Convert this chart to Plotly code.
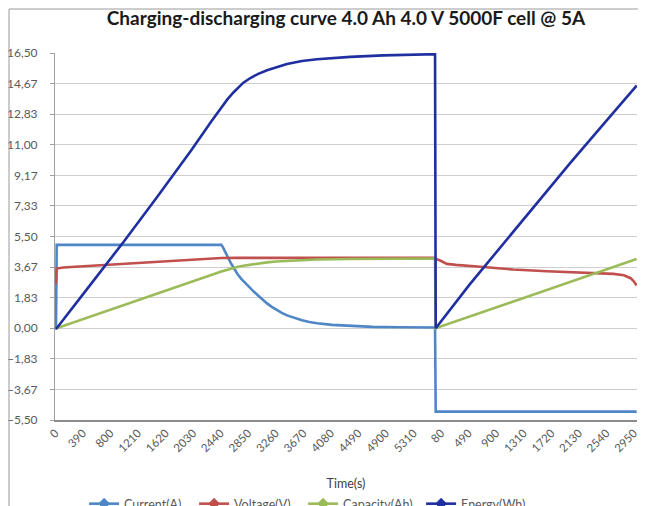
import plotly.graph_objects as go

TITLE = "Charging-discharging curve 4.0 Ah 4.0 V 5000F cell @ 5A"
X_TITLE = "Time(s)"
SERIES = ["Current(A)", "Voltage(V)", "Capacity(Ah)", "Energy(Wh)"]
COLORS = ["#4F86C6", "#C0504D", "#9BBB59", "#1F2FA0"]

# x-axis category labels (every 41st sample, as in the source chart)
X_TICK_LABELS = ["0", "390", "800", "1210", "1620", "2030", "2440", "2850", "3260",
                 "3670", "4080", "4490", "4900", "5310", "80", "490", "900", "1310",
                 "1720", "2130", "2540", "2950"]
LABEL_EVERY = 41
SAMPLE_STEP_S = 10
REST_SAMPLES = 2          # rest samples logged before the charge starts
CHARGE_SAMPLES = 564      # charge: 0 .. 5630 s
DISCHARGE_SAMPLES = 300   # discharge: 0 .. 2990 s

# ---------------- charge phase (s since charge start; negative = rest) -------------
chg_current_t = [-20, -10, 0, 2450, 2475, 2500, 2530, 2560, 2600, 2633, 2690, 2750,
                 2815, 2882, 2940, 3000, 3065, 3130, 3200, 3270, 3350, 3427, 3540,
                 3650, 3760, 3873, 4100, 4368, 4700, 5112, 5630]
chg_current = [0.0, 0.0, 5.0, 5.0, 4.85, 4.62, 4.4, 4.15, 3.85, 3.6, 3.25, 2.95,
               2.67, 2.41, 2.17, 1.95, 1.7, 1.49, 1.28, 1.1, 0.92, 0.77, 0.6,
               0.48, 0.38, 0.30, 0.20, 0.13, 0.08, 0.06, 0.05]

chg_voltage_t = [-20, -10, 0, 100, 400, 750, 1250, 1740, 2100, 2450, 2700, 5630]
chg_voltage = [2.7, 2.7, 3.58, 3.64, 3.72, 3.80, 3.91, 4.02, 4.12, 4.21, 4.22, 4.22]

chg_capacity_t = [-20, -10, 0, 2450, 2540, 2633, 2700, 2778, 2882, 3000, 3130, 3270,
                  3427, 3650, 3873, 4368, 5000, 5630]
chg_capacity = [0.0, 0.0, 0.0, 3.40, 3.52, 3.62, 3.69, 3.75, 3.82, 3.89, 3.95, 4.0,
                4.04, 4.09, 4.12, 4.15, 4.17, 4.18]

chg_energy_t = [-20, -10, 0, 500, 1000, 1500, 2000, 2300, 2450, 2540, 2633, 2700,
                2778, 2882, 3000, 3130, 3270, 3427, 3650, 3873, 4368, 4859, 5630]
chg_energy = [0.0, 0.0, 0.0, 2.6, 5.2, 7.9, 10.65, 12.4, 13.25, 13.72, 14.15, 14.42,
              14.72, 15.0, 15.25, 15.47, 15.66, 15.84, 16.02, 16.13, 16.27, 16.36, 16.43]

# ---------------- discharge phase (s since discharge start) -----------------------
dis_current_t = [0, 2990]
dis_current = [-5.0, -5.0]

dis_voltage_t = [0, 67, 166, 300, 666, 1152, 1653, 2153, 2644, 2800, 2900, 2950, 2990]
dis_voltage = [4.15, 4.06, 3.86, 3.80, 3.69, 3.52, 3.42, 3.36, 3.26, 3.18, 3.0, 2.8, 2.56]

dis_capacity_t = [0, 2990]
dis_capacity = [0.0, 4.15]

dis_energy_t = [0, 500, 1000, 1500, 2000, 2500, 2990]
dis_energy = [0.0, 2.6, 5.05, 7.5, 9.9, 12.25, 14.55]

Y_MIN, Y_MAX, Y_DIVS = -5.5, 16.5, 12
LEGEND_ENTRY_WIDTHS = [65, 64, 73, 70]


def charge_pos(ts):
    return [REST_SAMPLES + t / SAMPLE_STEP_S for t in ts]


def discharge_pos(ts):
    return [REST_SAMPLES + CHARGE_SAMPLES + t / SAMPLE_STEP_S for t in ts]


data = [
    (chg_current_t, chg_current, dis_current_t, dis_current),
    (chg_voltage_t, chg_voltage, dis_voltage_t, dis_voltage),
    (chg_capacity_t, chg_capacity, dis_capacity_t, dis_capacity),
    (chg_energy_t, chg_energy, dis_energy_t, dis_energy),
]

n_total = REST_SAMPLES + CHARGE_SAMPLES + DISCHARGE_SAMPLES

fig = go.Figure()
for name, color, (ct, cv, dt, dv) in zip(SERIES, COLORS, data):
    fig.add_trace(go.Scatter(
        x=charge_pos(ct) + discharge_pos(dt), y=cv + dv, mode="lines",
        line=dict(color=color, width=2.6), showlegend=False, name=name))
for name, color, lw in zip(SERIES, COLORS, LEGEND_ENTRY_WIDTHS):
    fig.add_trace(go.Scatter(
        x=[None], y=[None], mode="lines+markers", name=name, legendwidth=lw,
        line=dict(color=color, width=2.6),
        marker=dict(symbol="diamond", size=9, color=color)))

FONT = "Lato, 'Open Sans', sans-serif"
FIG_W, FIG_H = 638, 498   # the page body adds an 8px offset inside the 646x506 window
fig.update_layout(
    width=FIG_W, height=FIG_H,
    margin=dict(l=47, r=9, t=45, b=86, autoexpand=False),
    paper_bgcolor="white", plot_bgcolor="white",
    separators=", ",
    font=dict(family=FONT, size=12, color="#595959"),
    title=dict(text="<b>" + TITLE + "</b>", x=0.5, xref="paper", xanchor="center",
               y=1 - 10 / FIG_H, yref="container", yanchor="middle",
               font=dict(family=FONT, size=19, color="#1a1a1a")),
    xaxis=dict(
        range=[-0.5, n_total - 0.5],
        tickmode="array",
        tickvals=[i * LABEL_EVERY for i in range(len(X_TICK_LABELS))],
        ticktext=X_TICK_LABELS, tickangle=-45,
        showgrid=False, zeroline=False,
        showline=True, linecolor="#8C8C8C", linewidth=2,
        tickfont=dict(family=FONT, size=11.5, color="#595959"),
        title=dict(text=X_TITLE, standoff=26,
                   font=dict(family=FONT, size=12.5, color="#404040")),
    ),
    yaxis=dict(
        range=[Y_MIN, Y_MAX], tick0=Y_MIN, dtick=(Y_MAX - Y_MIN) / Y_DIVS,
        tickformat=".2f", showgrid=True, gridcolor="#CFCFCF", gridwidth=1,
        zeroline=False, showline=True, linecolor="#A0A0A0", linewidth=1,
        ticks="outside", ticklen=4, tickcolor="#A0A0A0", ticklabelstandoff=10,
        tickfont=dict(family=FONT, size=12, color="#595959"),
    ),
    legend=dict(orientation="h", x=0.05, xanchor="left", y=-0.229, yanchor="middle",
                font=dict(family=FONT, size=12.5, color="#595959"),
                itemwidth=30, bgcolor="rgba(0,0,0,0)"),
)

# chart-area border (mostly outside the screenshot), in figure pixels
PLOT_L, PLOT_R, PLOT_T, PLOT_B = 47, FIG_W - 9, 45, FIG_H - 86
def paper_x(px):
    return (px - PLOT_L) / (PLOT_R - PLOT_L)
def paper_y(py):
    return (PLOT_B - py) / (PLOT_B - PLOT_T)
fig.add_shape(type="line", xref="paper", yref="paper",
              x0=paper_x(1), x1=paper_x(FIG_W + 20), y0=paper_y(1), y1=paper_y(1),
              line=dict(color="#9A9A9A", width=1))
fig.add_shape(type="line", xref="paper", yref="paper",
              x0=paper_x(1), x1=paper_x(1), y0=paper_y(1), y1=paper_y(FIG_H + 20),
              line=dict(color="#9A9A9A", width=1))

fig.write_html("out.html")
